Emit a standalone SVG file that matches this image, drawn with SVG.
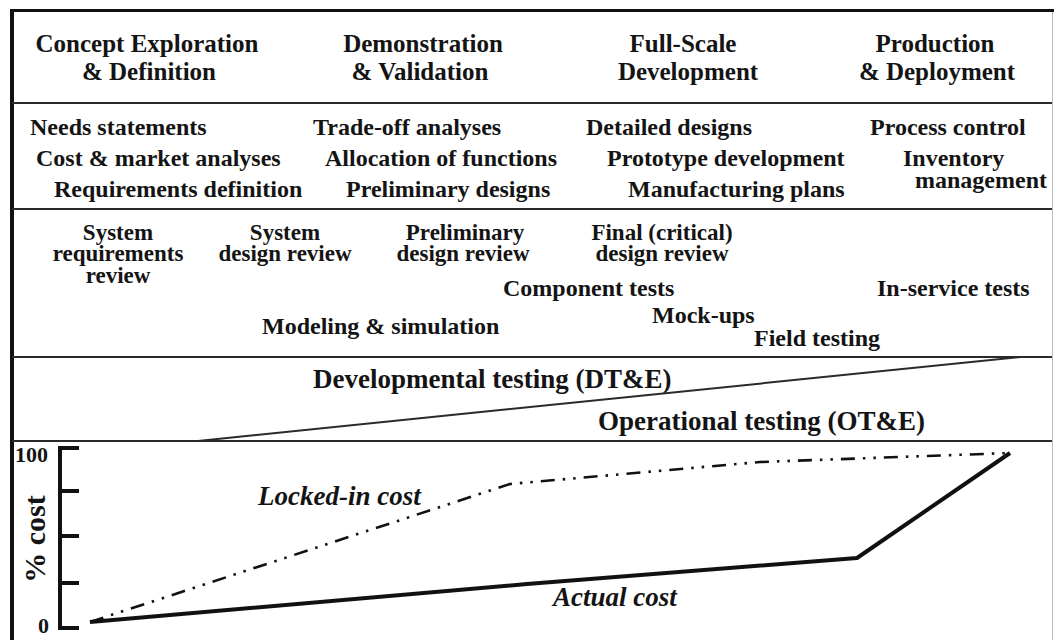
<svg xmlns="http://www.w3.org/2000/svg" width="1054" height="640" viewBox="0 0 1054 640">
  <style>
    text { font-family: "Liberation Serif", "Times New Roman", serif; font-weight: bold; fill: #141414; }
    .phase { font-size: 25px; text-anchor: middle; }
    .item { font-size: 24px; }
    .rev { font-size: 23px; text-anchor: middle; }
    .test { font-size: 27px; }
    .curve-label { font-size: 27px; font-style: italic; }
    .axis-label { font-size: 22px; }
    .axis-title { font-size: 30px; text-anchor: middle; }
    .rule { stroke: #2a2a2a; stroke-width: 2; fill: none; }
    .frame { stroke: #111; fill: none; }
    .actual { stroke: #111; stroke-width: 4; fill: none; stroke-linejoin: round; }
    .locked { stroke: #111; stroke-width: 2.6; fill: none; stroke-dasharray: 14 8 2.5 8 2.5 8; }
    .axis { stroke: #111; stroke-width: 4; fill: none; }
  </style>
  <rect width="1054" height="640" fill="#ffffff"/>

  <!-- frame and band separators -->
  <g id="frame">
    <line class="frame" x1="10" y1="10.5" x2="1054" y2="10.5" stroke-width="3"/>
    <line class="frame" x1="12" y1="9" x2="12" y2="640" stroke-width="4"/>
    <line x1="1052.5" y1="12" x2="1052.5" y2="640" stroke="#bbbbbb" stroke-width="1"/>
    <line class="rule" x1="12" y1="103" x2="1052" y2="103"/>
    <line class="rule" x1="12" y1="209" x2="1052" y2="209"/>
    <line class="rule" x1="12" y1="357" x2="1052" y2="357"/>
    <line class="rule" x1="12" y1="441" x2="1052" y2="441"/>
  </g>

  <!-- life-cycle phases -->
  <g id="phase-concept"><text class="phase" x="147" y="52">Concept Exploration</text><text class="phase" x="149" y="80">&amp; Definition</text></g>
  <g id="phase-demonstration"><text class="phase" x="423" y="52">Demonstration</text><text class="phase" x="420" y="80">&amp; Validation</text></g>
  <g id="phase-fsd"><text class="phase" x="683" y="52">Full-Scale</text><text class="phase" x="688" y="80">Development</text></g>
  <g id="phase-production"><text class="phase" x="935" y="52">Production</text><text class="phase" x="937" y="80">&amp; Deployment</text></g>

  <!-- activities -->
  <g id="activities-concept">
    <text class="item" x="30" y="135">Needs statements</text>
    <text class="item" x="36" y="166">Cost &amp; market analyses</text>
    <text class="item" x="54" y="197">Requirements definition</text>
  </g>
  <g id="activities-demonstration">
    <text class="item" x="313" y="135">Trade-off analyses</text>
    <text class="item" x="325" y="166">Allocation of functions</text>
    <text class="item" x="346" y="197">Preliminary designs</text>
  </g>
  <g id="activities-fsd">
    <text class="item" x="586" y="135">Detailed designs</text>
    <text class="item" x="607" y="166">Prototype development</text>
    <text class="item" x="628" y="197">Manufacturing plans</text>
  </g>
  <g id="activities-production">
    <text class="item" x="870" y="135">Process control</text>
    <text class="item" x="903" y="166">Inventory</text>
    <text class="item" x="1047" y="188" text-anchor="end">management</text>
  </g>

  <!-- reviews and tests -->
  <g id="srr"><text class="rev" x="118" y="240">System</text><text class="rev" x="118" y="261">requirements</text><text class="rev" x="118" y="283">review</text></g>
  <g id="sdr"><text class="rev" x="285" y="240">System</text><text class="rev" x="285" y="261">design review</text></g>
  <g id="pdr"><text class="rev" x="465" y="240">Preliminary</text><text class="rev" x="463" y="261">design review</text></g>
  <g id="cdr"><text class="rev" x="662" y="240">Final (critical)</text><text class="rev" x="662" y="261">design review</text></g>
  <g id="component-tests"><text class="item" x="503" y="296">Component tests</text></g>
  <g id="in-service-tests"><text class="item" x="877" y="296">In-service tests</text></g>
  <g id="modeling"><text class="item" x="262" y="334">Modeling &amp; simulation</text></g>
  <g id="mock-ups"><text class="item" x="652" y="323">Mock-ups</text></g>
  <g id="field-testing"><text class="item" x="754" y="346">Field testing</text></g>

  <!-- test and evaluation -->
  <g id="dte"><text class="test" x="313" y="388">Developmental testing (DT&amp;E)</text></g>
  <g id="ote"><text class="test" x="598" y="430">Operational testing (OT&amp;E)</text></g>

  <!-- cost chart -->
  <g id="cost-axis">
    <path class="axis" d="M79,448 H60 V628 H79 M60,491 H79 M60,536 H79 M60,583 H79"/>
    <text class="axis-label" x="15" y="462">100</text>
    <text class="axis-label" x="38" y="633">0</text>
    <text class="axis-title" transform="translate(45,539) rotate(-90)">% cost</text>
  </g>
  <g id="locked-in-label"><text class="curve-label" x="258" y="505">Locked-in cost</text></g>
  <g id="actual-label"><text class="curve-label" x="553" y="606">Actual cost</text></g>

  <g id="connectors">
    <line class="rule" x1="198" y1="441" x2="1020" y2="357"/>
    <polyline class="locked" points="90,622 510,484 760,462 1010,453"/>
    <polyline class="actual" points="90,622 527,584 857,558 1010,453"/>
  </g>
</svg>
